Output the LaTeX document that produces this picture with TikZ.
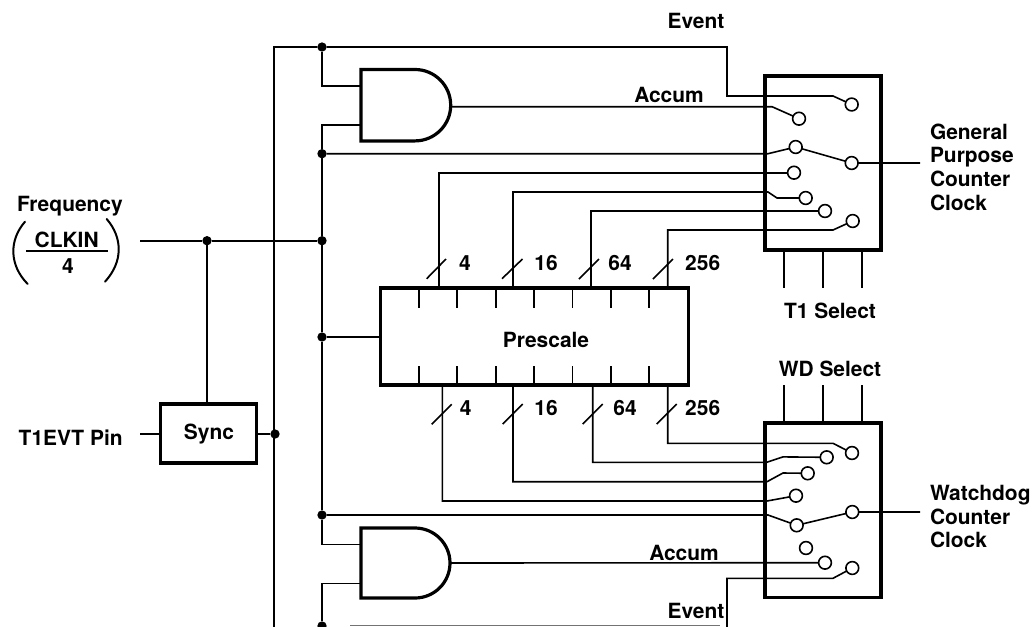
\documentclass[tikz,border=0pt]{standalone}
\usepackage{fontspec}
\setmainfont{TeX Gyre Heros}
\begin{document}
\begin{tikzpicture}[x=0.75pt,y=-0.75pt,
  wire/.style={line width=1.2pt,line join=miter},
  heavy/.style={draw,line width=2.4pt,inner sep=0pt,outer sep=0pt,rectangle},
  contact/.style={circle,draw,fill=white,line width=1.2pt,minimum size=9.6pt,inner sep=0pt,outer sep=0pt},
  junction/.style={circle,fill=black,minimum size=7pt,inner sep=0pt,outer sep=0pt},
  lab/.style={inner sep=0pt,outer sep=0pt,text height=11.2pt,text depth=0pt,font=\bfseries\fontsize{15.7}{15.7}\selectfont},
  gate/.style={line width=2.4pt,line join=miter,fill=white},
  tick/.style={line width=1.1pt},
  bar/.style={line width=1.2pt}]
\useasboundingbox (0,0) rectangle (1033,626);
\clip (0,0) rectangle (1033,626);

% bus end points
\coordinate (busTop) at (274,47);
\coordinate (busEnd) at (274,627);
\coordinate (evTopTurn) at (727,47);
\coordinate (evTopIn) at (833,96);
\coordinate (evBotIn) at (833,578.3);
\coordinate (evBotEnd) at (727,627);
\coordinate (freqIn) at (140,240.7);
\coordinate (pinIn) at (140,434);
\coordinate (gpOut) at (920,163);
\coordinate (wdOut) at (920,512);

% junctions
\node[junction] (jTop) at (322,47) {};
\node[junction] (jMidA) at (322,153.7) {};
\node[junction] (jFreq) at (322,240.7) {};
\node[junction] (jPre) at (322,337) {};
\node[junction] (jMidB) at (322,515) {};
\node[junction] (jBot) at (322,626) {};
\node[junction] (jSyncF) at (207,240.7) {};
\node[junction] (jSync) at (275,434) {};

% main blocks
\node[heavy,minimum width=231pt,minimum height=72.8pt] (pre) at (534.3,336.5) {};
\node[heavy,minimum width=72pt,minimum height=44.3pt] (sync) at (208.3,433.5) {};
\node[heavy,minimum width=87pt,minimum height=130.5pt] (gp) at (823,163) {};
\node[heavy,minimum width=87pt,minimum height=131pt] (wd) at (823,510.3) {};

% AND gates
\coordinate (gAin1) at (361,86);
\coordinate (gAin2) at (361,125);
\coordinate (gAout) at (449.5,105.2);
\coordinate (gBin1) at (361,544.3);
\coordinate (gBin2) at (361,583.3);
\coordinate (gBout) at (449.5,563);

% contacts of the general purpose switch
\node[contact] (a1) at (851.7,104.5) {};
\node[contact] (a2) at (799,118.7) {};
\node[contact] (a3) at (795.7,147) {};
\node[contact] (aC) at (851.7,163) {};
\node[contact] (a4) at (794,172.7) {};
\node[contact] (a5) at (805.7,198) {};
\node[contact] (a6) at (825,211) {};
\node[contact] (a7) at (852.7,221) {};
% contacts of the watchdog switch
\node[contact] (b1) at (852,453) {};
\node[contact] (b2) at (826.7,457.3) {};
\node[contact] (b3) at (807.7,473.3) {};
\node[contact] (b4) at (796,495.7) {};
\node[contact] (b5) at (796.7,525.3) {};
\node[contact] (bC) at (852.3,512) {};
\node[contact] (b6) at (806,548) {};
\node[contact] (b7) at (825,562.7) {};
\node[contact] (b8) at (852.3,568) {};

% prescale taps
\coordinate (pT4) at (439,288);
\coordinate (pT16) at (513,288);
\coordinate (pT64) at (590.7,288);
\coordinate (pT256) at (667.7,288);
\coordinate (pB4) at (442.3,385);
\coordinate (pB16) at (513,385);
\coordinate (pB64) at (592.7,385);
\coordinate (pB256) at (667.7,385);

% buses
\draw[wire] (busEnd) -- (busTop) -- (jTop) -- (evTopTurn) -- (727,96) -- (evTopIn) -- (a1);
\draw[wire] (jTop) -- (322,86) -- (gAin1);
\draw[wire] (gAin2) -- (322,125) -- (jMidA) -- (jFreq) -- (jPre) -- (jMidB) -- (322,544.3) -- (gBin1);
\draw[wire] (gBin2) -- (322,583.3) -- (jBot);
\draw[wire] (freqIn) -- (jSyncF) -- (jFreq);
\draw[wire] (jSyncF) -- (sync.north -| jSyncF);
\draw[wire] (pinIn) -- (sync.west |- pinIn);
\draw[wire] (sync.east |- jSync) -- (jSync);
\draw[wire] (jPre) -- (pre.west |- jPre);
\draw[line width=0.9pt,black!55] (350,625.7) -- (720,625.7);

% general purpose switch wiring
\draw[wire] (gAout |- 0,106.7) -- (772,106.7) -- (a2);
\draw[wire] (jMidA) -- (768,153.7) -- (a3);
\draw[wire] (a3) -- (aC) -- (gpOut);
\draw[wire] (pT4) -- (439,172.7) -- (a4);
\draw[wire] (pT16) -- (513,192) -- (768,192) -- (777,198) -- (a5);
\draw[wire] (pT64) -- (590.7,211) -- (a6);
\draw[wire] (pT256) -- (667.7,230) -- (833,230) -- (a7);

% watchdog switch wiring
\draw[wire] (pB256) -- (667.7,443.3) -- (833,443.3) -- (b1);
\draw[wire] (pB64) -- (592.7,462.3) -- (766.7,462.3) -- (783,456.9) -- (b2);
\draw[wire] (pB16) -- (513,481.7) -- (767,481.7) -- (783,473) -- (b3);
\draw[wire] (pB4) -- (442.3,501) -- (767,501) -- (b4);
\draw[wire] (jMidB) -- (768,515) -- (b5);
\draw[wire] (b5) -- (bC) -- (wdOut);
\draw[wire] (gBout) -- (b7);
\draw[wire] (evBotEnd) -- (727,578.3) -- (evBotIn) -- (b8);

% select lines
\foreach \x in {783.7,822.7,861.7}{
  \draw[wire] (\x,250) -- (\x,288);
  \draw[wire] (\x,385) -- (\x,423);
}

% gates bodies
\draw[gate] (361,69.5) -- (415,69.5) .. controls (434.7,69.5) and (450.7,85.5) .. (450.7,105.2) .. controls (450.7,124.9) and (434.7,140.9) .. (415,140.9) -- (361,140.9) -- cycle;
\draw[gate] (361,528) -- (415,528) .. controls (434.3,528) and (450,543.7) .. (450,563) .. controls (450,582.3) and (434.3,598) .. (415,598) -- (361,598) -- cycle;

% prescale ticks
\foreach \x in {419,457,496,534,572.5,611,649}{
  \draw[tick] (\x,288) -- (\x,307.7);
  \draw[tick] (\x,385) -- (\x,365.7);
}

% slashes
\draw[wire] (426.7,278.7) -- (446,259);
\draw[wire] (502,278.7) -- (522.5,259);
\draw[wire] (579,279) -- (599,259);
\draw[wire] (653,279) -- (673,259);
\draw[wire] (431.7,424.3) -- (451.7,404.3);
\draw[wire] (502.7,424) -- (522.7,404);
\draw[wire] (582.7,424) -- (602.7,404);
\draw[wire] (656.7,424) -- (676.7,404);

% frequency brackets and bar
\draw[line width=1.5pt,line cap=round] (25,221.7) .. controls (9,240) and (9,265) .. (27.7,284);
\draw[line width=1.5pt,line cap=round] (106.7,219) .. controls (123,238) and (123,262) .. (105,281.7);
\draw[bar] (26,250.7) -- (107.7,250.7);

% labels
\node[lab] (tEvent1) at (696,21) {Event};
\node[lab] (tAccum1) at (669,95) {Accum};
\node[lab] (tAccum2) at (684,553) {Accum};
\node[lab] (tEvent2) at (696,610.7) {Event};
\node[lab] (tPre) at (546,340) {Prescale};
\node[lab] (tSync) at (209,432) {Sync};
\node[lab] (tFreq) at (70,204) {Frequency};
\node[lab] (tClk) at (66.7,240) {CLKIN};
\node[lab] (tFour) at (68,266) {4};
\node[lab] (tPin) at (70.7,438) {T1EVT Pin};
\node[lab] (tT1) at (830,310.7) {T1 Select};
\node[lab] (tWD) at (830,369.3) {WD Select};
\node[lab,anchor=west] (g1) at (930,131.7) {General};
\node[lab,anchor=west] (g2) at (930,155.5) {Purpose};
\node[lab,anchor=west] (g3) at (930,179.5) {Counter};
\node[lab,anchor=west] (g4) at (930,202.7) {Clock};
\node[lab,anchor=west] (w1) at (930,492.7) {Watchdog};
\node[lab,anchor=west] (w2) at (930,516.7) {Counter};
\node[lab,anchor=west] (w3) at (930,540) {Clock};
\node[lab] (n1) at (465,262.7) {4};
\node[lab] (n2) at (546,262.7) {16};
\node[lab] (n3) at (620,262.7) {64};
\node[lab] (n4) at (702.7,262.7) {256};
\node[lab] (n5) at (465.7,407.7) {4};
\node[lab] (n6) at (546,407.7) {16};
\node[lab] (n7) at (625,407.7) {64};
\node[lab] (n8) at (702.7,407.7) {256};
\end{tikzpicture}
\end{document}
